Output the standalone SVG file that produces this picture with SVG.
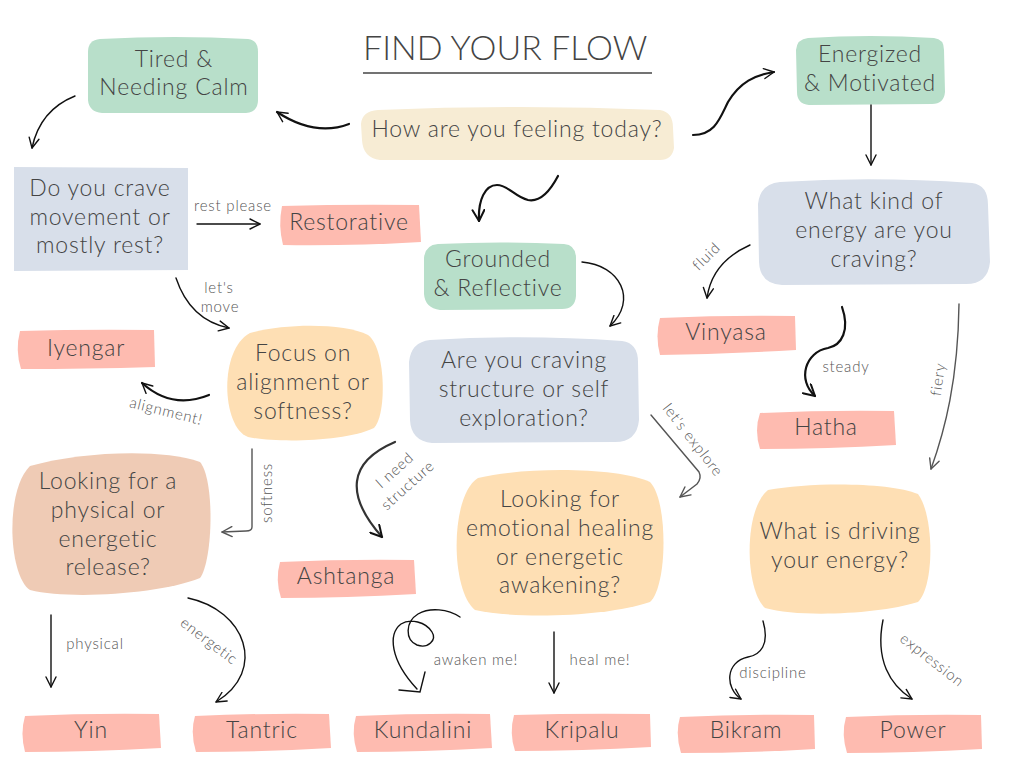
<svg xmlns="http://www.w3.org/2000/svg" width="1024" height="768" viewBox="0 0 1024 768">
<style>
.t{font-family:Lato,"Open Sans",sans-serif;font-weight:300;font-size:23px;letter-spacing:0.8px;fill:#444;text-anchor:middle}
.h{font-family:Lato,"Open Sans",sans-serif;font-weight:300;font-size:34px;fill:#444}
.l{font-family:Lato,"Open Sans",sans-serif;font-weight:300;font-size:15px;letter-spacing:0.8px;fill:#555;text-anchor:middle}
.green{fill:#B8DFCA}.beige{fill:#F7ECD4}.blue{fill:#D8DFEA}.pink{fill:#FEBBB0}.orange{fill:#FEDFB4}.tan{fill:#EFCBB5}
.c{fill:none;stroke:#111;stroke-width:1.4;stroke-linecap:round}
.k{fill:none;stroke:#111;stroke-width:2.2;stroke-linecap:round}
.g{fill:none;stroke:#555;stroke-width:1.4;stroke-linecap:round}
</style>
<defs>
<marker id="a" viewBox="0 0 12 12" refX="11" refY="6" markerWidth="12" markerHeight="12" markerUnits="userSpaceOnUse" orient="auto"><path d="M1,1 L11,6 L1,11" fill="none" stroke="#111" stroke-width="1.4" stroke-linecap="round" stroke-linejoin="round"/></marker>
<marker id="ag" viewBox="0 0 12 12" refX="11" refY="6" markerWidth="12" markerHeight="12" markerUnits="userSpaceOnUse" orient="auto"><path d="M1,1 L11,6 L1,11" fill="none" stroke="#555" stroke-width="1.4" stroke-linecap="round" stroke-linejoin="round"/></marker>
<marker id="ak" viewBox="0 0 14 14" refX="12" refY="7" markerWidth="14" markerHeight="14" markerUnits="userSpaceOnUse" orient="auto"><path d="M1,1 L12,7 L1,13" fill="none" stroke="#111" stroke-width="2" stroke-linecap="round" stroke-linejoin="round"/></marker>
</defs>
<rect width="1024" height="768" fill="#fff"/>

<g id="title">
<text class="h" x="363" y="60">FIND YOUR FLOW</text>
<line x1="363" y1="73" x2="652" y2="73" stroke="#444" stroke-width="1.5"/>
</g>

<g id="tired">
<path class="green" d="M100 39 Q175 35 248 39 Q258 40 258 52 L258 100 Q258 112 246 113 L102 113 Q89 112 88 100 L88 52 Q88 40 100 39 Z"/>
<text class="t" x="174" y="67">Tired &amp;</text>
<text class="t" x="174" y="95">Needing Calm</text>
</g>

<g id="how">
<path class="beige" d="M378 110 Q520 104 660 110 Q673 112 673 128 L674 148 Q672 160 660 160 L380 160 Q363 158 362 140 L361 124 Q362 111 378 110 Z"/>
<text class="t" x="517" y="137">How are you feeling today?</text>
</g>

<g id="energized">
<path class="green" d="M808 38 Q870 34 934 38 Q944 39 944 50 L945 92 Q944 104 932 104 L809 105 Q797 104 797 92 L796 50 Q797 39 808 38 Z"/>
<text class="t" x="870" y="62">Energized</text>
<text class="t" x="870" y="91">&amp; Motivated</text>
</g>

<g id="crave">
<path class="blue" d="M14 167 L188 168 L188 270 L14 271 Z"/>
<text class="t" x="100" y="196">Do you crave</text>
<text class="t" x="100" y="225">movement or</text>
<text class="t" x="100" y="253">mostly rest?</text>
</g>

<g id="restorative">
<path class="pink" d="M282 206 Q350 204 419 205 L421 242 Q350 246 283 245 Q278 226 282 206 Z"/>
<text class="t" x="349" y="230">Restorative</text>
</g>

<g id="grounded">
<path class="green" d="M438 244 Q500 241 564 244 Q576 245 576 258 L576 296 Q575 309 562 309 L440 310 Q425 308 424 294 L424 258 Q425 245 438 244 Z"/>
<text class="t" x="498" y="267">Grounded</text>
<text class="t" x="498" y="296">&amp; Reflective</text>
</g>

<g id="whatkind">
<path class="blue" d="M780 182 Q875 176 972 183 Q988 185 988 205 L990 262 Q988 284 966 284 L782 285 Q760 284 759 262 L758 204 Q760 184 780 182 Z"/>
<text class="t" x="874" y="209">What kind of</text>
<text class="t" x="874" y="238">energy are you</text>
<text class="t" x="874" y="267">craving?</text>
</g>

<g id="iyengar">
<path class="pink" d="M20 331 Q86 329 154 330 L155 367 Q86 369 21 369 Q15 350 20 331 Z"/>
<text class="t" x="86" y="356">Iyengar</text>
</g>

<g id="focus">
<path class="orange" d="M250 333 C285 323 345 323 368 335 C386 348 387 415 374 428 C345 442 275 443 248 437 C222 428 218 350 250 333 Z"/>
<text class="t" x="303" y="361">Focus on</text>
<text class="t" x="303" y="390">alignment or</text>
<text class="t" x="303" y="419">softness?</text>
</g>

<g id="structure">
<path class="blue" d="M430 340 Q525 334 622 341 Q638 343 638 362 L639 420 Q637 442 615 442 L432 443 Q411 441 410 420 L409 362 Q411 342 430 340 Z"/>
<text class="t" x="524" y="368">Are you craving</text>
<text class="t" x="524" y="397">structure or self</text>
<text class="t" x="524" y="426">exploration?</text>
</g>

<g id="vinyasa">
<path class="pink" d="M660 318 Q726 315 795 316 L796 350 Q726 354 660 355 Q655 336 660 318 Z"/>
<text class="t" x="726" y="340">Vinyasa</text>
</g>

<g id="hatha">
<path class="pink" d="M760 413 Q826 410 894 411 L896 445 Q826 449 760 449 Q754 430 760 413 Z"/>
<text class="t" x="826" y="435">Hatha</text>
</g>

<g id="physical">
<path class="tan" d="M30 466 C80 452 160 448 200 462 C215 480 213 560 200 578 C160 594 70 600 30 590 C8 575 5 490 30 466 Z"/>
<text class="t" x="108" y="489">Looking for a</text>
<text class="t" x="108" y="518">physical or</text>
<text class="t" x="108" y="547">energetic</text>
<text class="t" x="108" y="575">release?</text>
</g>

<g id="ashtanga">
<path class="pink" d="M280 562 Q346 559 414 560 L416 594 Q346 598 281 598 Q275 580 280 562 Z"/>
<text class="t" x="346" y="584">Ashtanga</text>
</g>

<g id="emotional">
<path class="orange" d="M478 478 C530 466 620 468 650 482 C668 500 668 585 650 602 C610 616 520 620 475 610 C450 590 450 495 478 478 Z"/>
<text class="t" x="560" y="507">Looking for</text>
<text class="t" x="560" y="536">emotional healing</text>
<text class="t" x="560" y="565">or energetic</text>
<text class="t" x="560" y="593">awakening?</text>
</g>

<g id="driving">
<path class="orange" d="M768 490 C810 482 890 482 918 494 C934 515 935 585 918 602 C880 614 800 618 765 608 C745 590 743 510 768 490 Z"/>
<text class="t" x="840" y="539">What is driving</text>
<text class="t" x="840" y="568">your energy?</text>
</g>

<g id="yin">
<path class="pink" d="M25 716 Q90 713 159 714 L161 748 Q90 752 25 752 Q20 733 25 716 Z"/>
<text class="t" x="91" y="738">Yin</text>
</g>
<g id="tantric">
<path class="pink" d="M195 716 Q262 713 329 714 L331 748 Q262 752 196 752 Q190 733 195 716 Z"/>
<text class="t" x="262" y="738">Tantric</text>
</g>
<g id="kundalini">
<path class="pink" d="M356 716 Q422 713 490 714 L492 748 Q422 752 357 752 Q351 733 356 716 Z"/>
<text class="t" x="423" y="738">Kundalini</text>
</g>
<g id="kripalu">
<path class="pink" d="M514 715 Q582 713 650 714 L651 747 Q582 751 515 751 Q509 733 514 715 Z"/>
<text class="t" x="582" y="738">Kripalu</text>
</g>
<g id="bikram">
<path class="pink" d="M680 717 Q746 714 814 715 L815 749 Q746 753 681 753 Q675 734 680 717 Z"/>
<text class="t" x="746" y="738">Bikram</text>
</g>
<g id="power">
<path class="pink" d="M846 717 Q912 714 981 715 L982 749 Q912 753 847 753 Q841 734 846 717 Z"/>
<text class="t" x="913" y="738">Power</text>
</g>

<g id="connectors">
<path class="k" d="M349 124 Q315 137 277 112" marker-end="url(#a)"/>
<path class="c" d="M75 96 Q40 110 32 148" marker-end="url(#a)"/>
<path class="k" d="M693 135 C715 135 720 118 728 102 C740 82 755 75 774 72" marker-end="url(#a)"/>
<path class="c" d="M871 105 L871 165" marker-end="url(#a)"/>
<path class="k" d="M558 176 C548 195 538 202 528 200 C515 197 508 185 497 185 C485 185 478 200 479 221" marker-end="url(#ak)"/>
<path class="c" d="M582 262 C620 265 638 300 610 326" marker-end="url(#a)"/>
<path class="c" d="M197 224 L260 224" marker-end="url(#a)"/>
<path class="c" d="M176 278 Q190 320 229 328" marker-end="url(#a)"/>
<path class="k" d="M209 395 Q172 410 142 383" marker-end="url(#a)"/>
<path class="g" d="M252 449 L252 527 Q252 531 246 531 L222 532" marker-end="url(#ag)"/>
<path class="k" d="M395 442 C348 462 345 495 382 537" marker-end="url(#ak)" style="stroke:#333"/>
<path class="g" d="M651 415 L699 472 Q702 478 697 484 L680 497" marker-end="url(#ag)"/>
<path class="c" d="M750 245 Q712 262 707 298" marker-end="url(#a)"/>
<path class="k" d="M842 307 C850 330 842 345 828 348 C805 352 797 380 815 396" marker-end="url(#ak)"/>
<path class="g" d="M959 304 C958 380 945 430 931 469" marker-end="url(#ag)"/>
<path class="c" d="M51 615 L51 687" marker-end="url(#a)"/>
<path class="c" d="M188 598 C245 610 268 670 216 702" marker-end="url(#a)"/>
<path class="c" d="M460 617 C448 609 430 607 418 614 C405 622 405 640 417 645 C428 649 437 640 432 632 C426 622 410 618 401 624 C388 634 390 660 417 689"/>
<path class="c" d="M425 672 L420 692 L399 690"/>
<path class="c" d="M554 632 L554 693" marker-end="url(#a)"/>
<path class="c" d="M763 621 C770 645 760 655 748 657 C725 662 725 688 741 699" marker-end="url(#a)"/>
<path class="c" d="M883 620 C875 660 890 685 912 699" marker-end="url(#a)"/>
</g>

<g id="labels">
<text class="l" x="233" y="211">rest please</text>
<text class="l" x="219" y="293">let's</text>
<text class="l" x="220" y="312">move</text>
<text class="l" transform="translate(165,416) rotate(14)">alignment!</text>
<text class="l" transform="translate(272,493) rotate(-90)">softness</text>
<text class="l" transform="translate(398,474) rotate(-42)">I need</text>
<text class="l" transform="translate(411,489) rotate(-42)">structure</text>
<text class="l" transform="translate(689,443) rotate(52)">let's explore</text>
<text class="l" transform="translate(710,260) rotate(-45)">fluid</text>
<text class="l" x="846" y="372">steady</text>
<text class="l" transform="translate(943,380) rotate(-82)">fiery</text>
<text class="l" x="95" y="649">physical</text>
<text class="l" transform="translate(206,645) rotate(37)">energetic</text>
<text class="l" x="476" y="665">awaken me!</text>
<text class="l" x="600" y="665">heal me!</text>
<text class="l" x="773" y="678">discipline</text>
<text class="l" transform="translate(929,664) rotate(38)">expression</text>
</g>
</svg>
